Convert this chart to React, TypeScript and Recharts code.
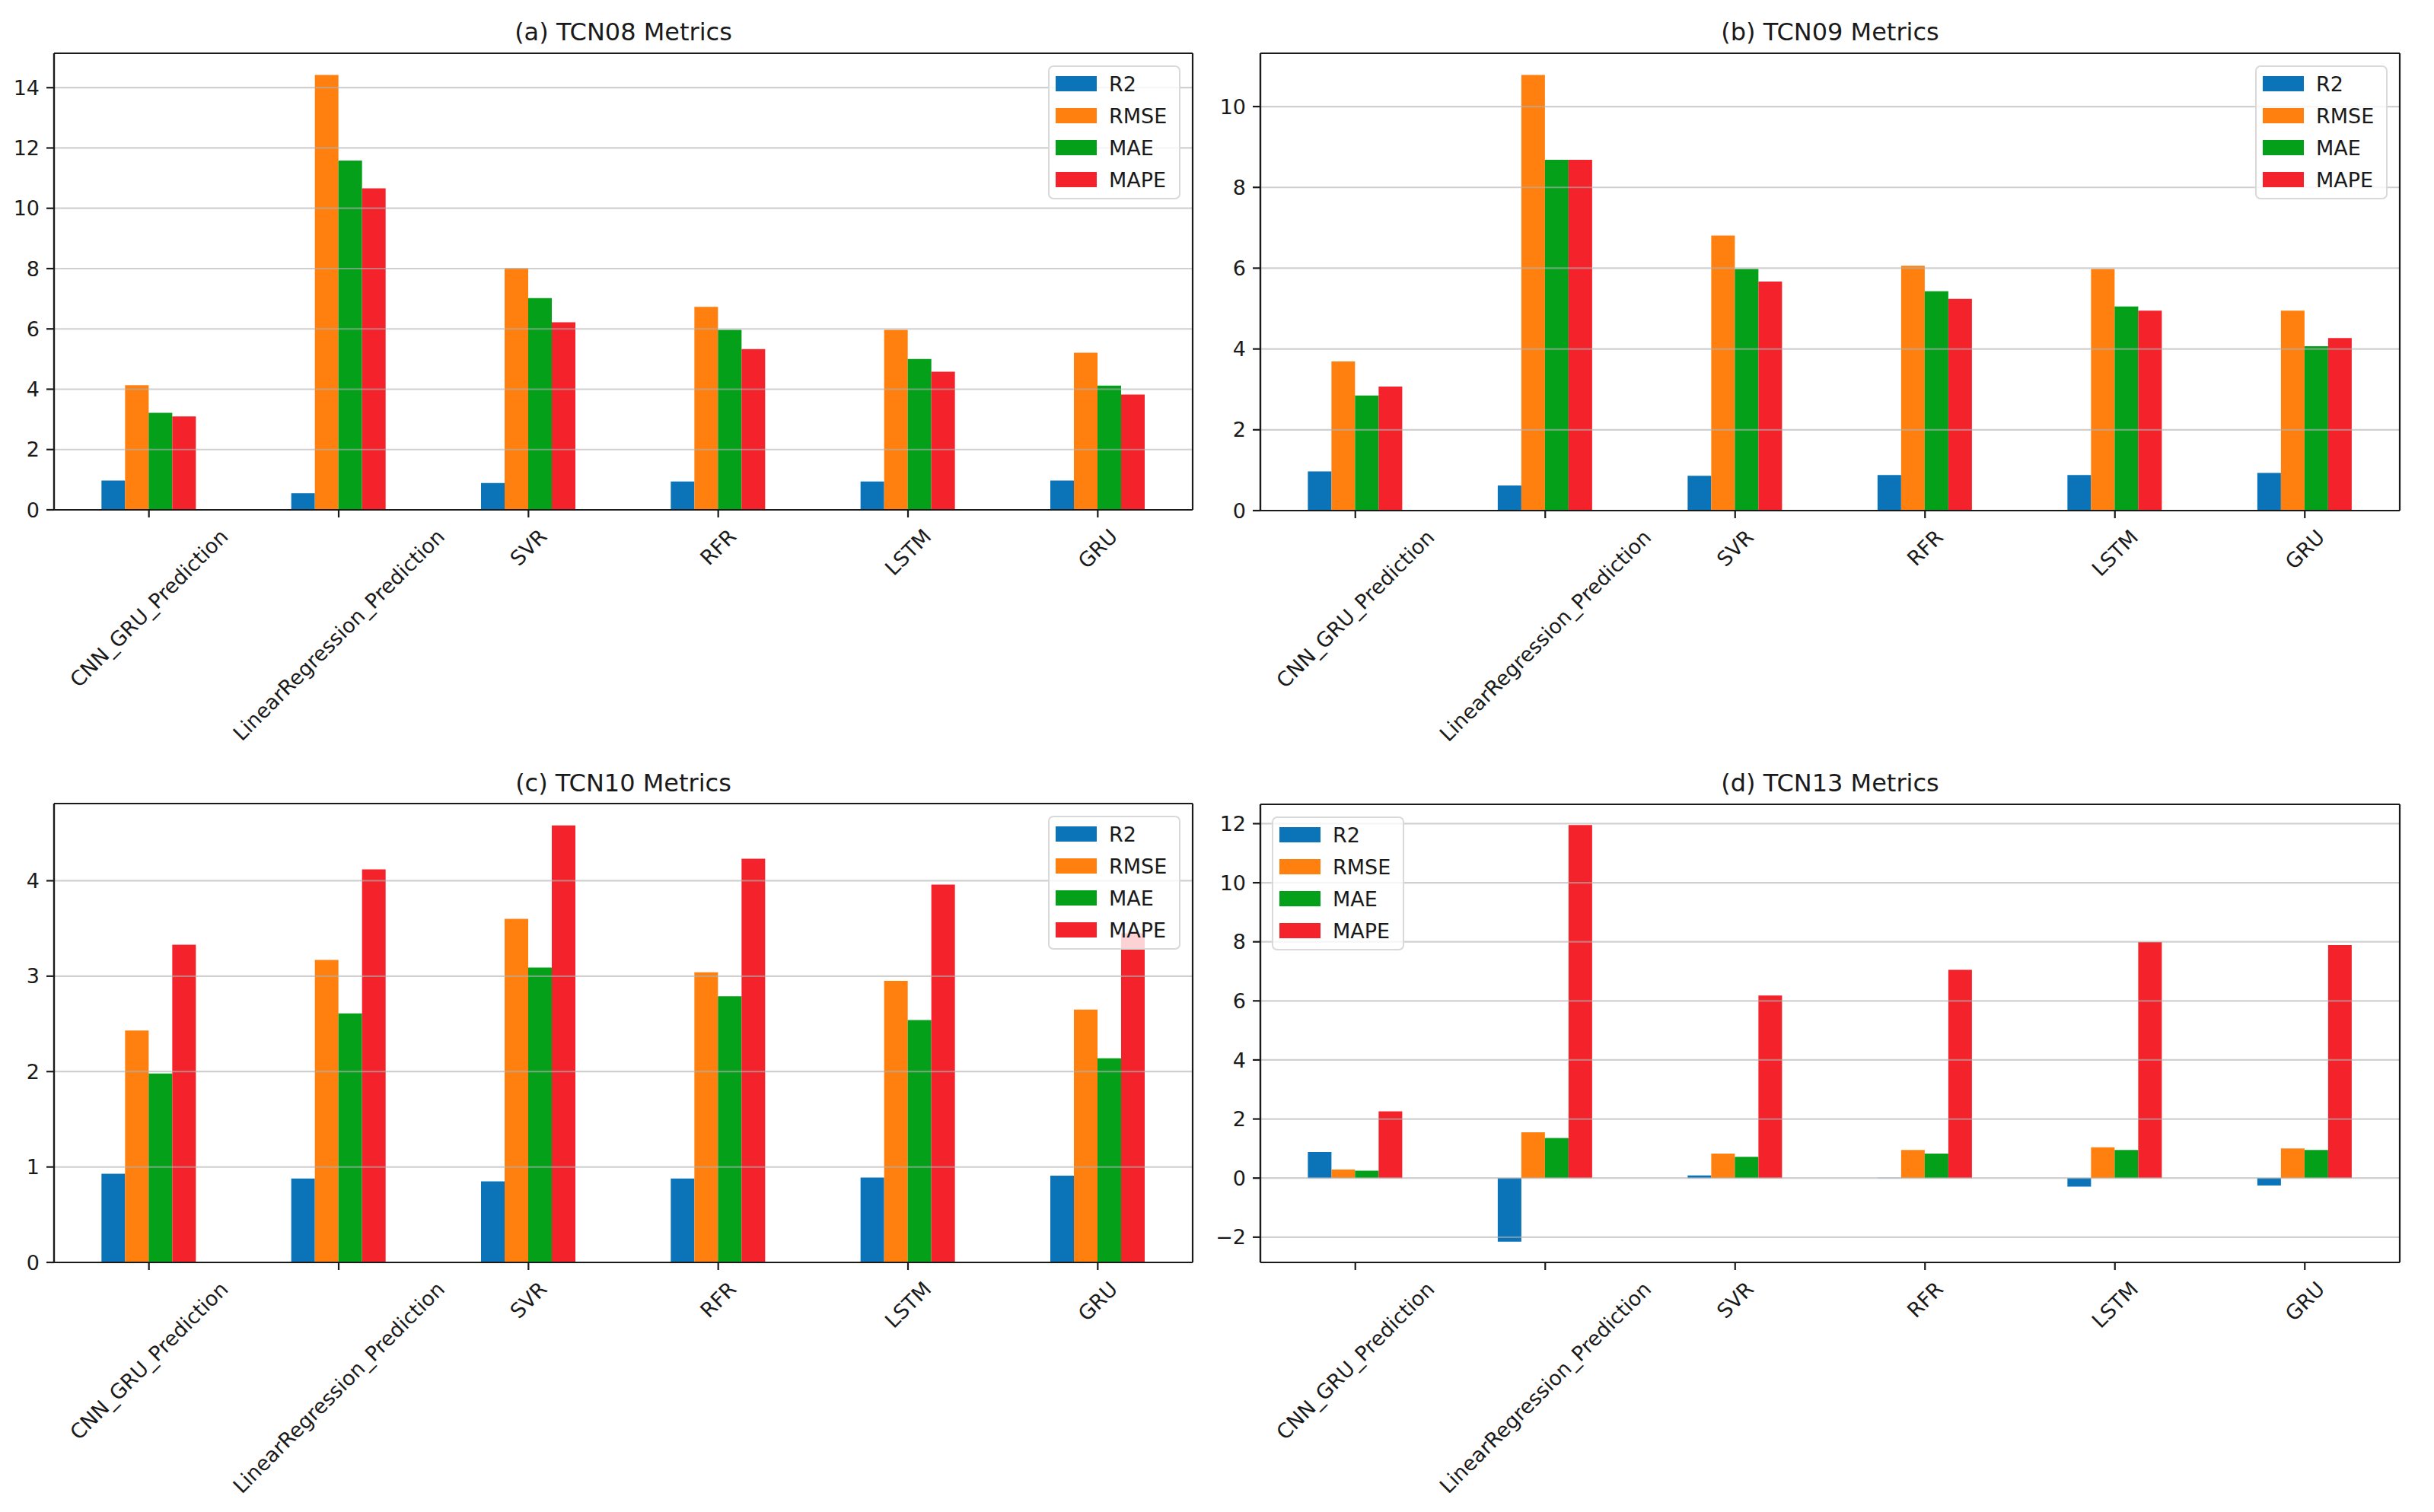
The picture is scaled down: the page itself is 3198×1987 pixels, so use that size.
import { BarChart, Bar, XAxis, YAxis, CartesianGrid, Legend } from 'recharts'

// 2x2 grid of grouped bar charts (matplotlib/pandas look): one panel per TCN dataset.

const models = ['CNN_GRU_Prediction', 'LinearRegression_Prediction', 'SVR', 'RFR', 'LSTM', 'GRU']
const metrics = ['R2', 'RMSE', 'MAE', 'MAPE']
const metricColors = ['#0b74b8', '#ff800e', '#04a01a', '#f4222a']

// (a) TCN08
const tcn08R2 = [0.97, 0.55, 0.89, 0.94, 0.94, 0.97]
const tcn08Rmse = [4.13, 14.42, 8.01, 6.73, 5.97, 5.21]
const tcn08Mae = [3.22, 11.58, 7.02, 5.97, 5.0, 4.12]
const tcn08Mape = [3.1, 10.66, 6.22, 5.33, 4.58, 3.82]

// (b) TCN09
const tcn09R2 = [0.97, 0.62, 0.86, 0.88, 0.88, 0.93]
const tcn09Rmse = [3.69, 10.78, 6.81, 6.06, 5.98, 4.95]
const tcn09Mae = [2.85, 8.68, 5.98, 5.43, 5.05, 4.07]
const tcn09Mape = [3.07, 8.68, 5.67, 5.24, 4.95, 4.27]

// (c) TCN10
const tcn10R2 = [0.93, 0.88, 0.85, 0.88, 0.89, 0.91]
const tcn10Rmse = [2.43, 3.17, 3.6, 3.04, 2.95, 2.65]
const tcn10Mae = [1.98, 2.61, 3.09, 2.79, 2.54, 2.14]
const tcn10Mape = [3.33, 4.12, 4.58, 4.23, 3.96, 3.45]

// (d) TCN13
const tcn13R2 = [0.88, -2.15, 0.09, 0.01, -0.29, -0.25]
const tcn13Rmse = [0.29, 1.55, 0.83, 0.95, 1.04, 1.0]
const tcn13Mae = [0.25, 1.36, 0.72, 0.83, 0.95, 0.95]
const tcn13Mape = [2.26, 11.95, 6.18, 7.05, 7.99, 7.89]

const ticks08 = [0, 2, 4, 6, 8, 10, 12, 14]
const ticks09 = [0, 2, 4, 6, 8, 10]
const ticks10 = [0, 1, 2, 3, 4]
const ticks13 = [-2, 0, 2, 4, 6, 8, 10, 12]

const FONT = "'DejaVu Sans', sans-serif"
const INK = '#1a1a1a'
const TICK_FS = 27
const Y_AXIS_W = 50
const X_AXIS_H = 60
// room around the plot box for ticks, labels and the title
const PAD_L = 100
const PAD_T = 70
const PAD_R = 30
const PAD_B = 320

function rows(r2: number[], rmse: number[], mae: number[], mape: number[]) {
  return models.map((model, i) => ({ model, R2: r2[i], RMSE: rmse[i], MAE: mae[i], MAPE: mape[i] }))
}

// matplotlib autoscale: bars stick to 0, 5% margin on the free ends
function yDomain(data: Record<string, number | string>[]) {
  const vals = data.flatMap(d => metrics.map(m => Number(d[m])))
  const lo = Math.min(0, ...vals)
  const hi = Math.max(0, ...vals)
  const span = hi - lo
  return [lo < 0 ? lo - 0.05 * span : 0, hi + 0.05 * span]
}

let ctx: CanvasRenderingContext2D | null = null
function textWidth(s: string) {
  if (!ctx) ctx = document.createElement('canvas').getContext('2d')
  if (!ctx) return s.length * TICK_FS * 0.6
  ctx.font = `${TICK_FS}px 'DejaVu Sans'`
  return ctx.measureText(s).width
}

// rotated 45°, box centred under the tick (matplotlib ha='center')
function SlantTick(props: any) {
  const { x, y, payload } = props
  const side = (textWidth(payload.value) + TICK_FS * 1.16) / Math.SQRT2
  return (
    <text
      x={0}
      y={0}
      transform={`translate(${x},${y + side / 2}) rotate(-45)`}
      textAnchor="middle"
      dominantBaseline="central"
      fontSize={TICK_FS}
      fontFamily={FONT}
      fill={INK}
    >
      {payload.value}
    </text>
  )
}

function LegendBox({ payload }: any) {
  // keep the series order (recharts sorts the payload by name)
  const items = [...(payload || [])].sort((a: any, b: any) => metrics.indexOf(a.value) - metrics.indexOf(b.value))
  return (
    <div
      style={{
        width: 174,
        height: 176,
        boxSizing: 'border-box',
        border: '2px solid #d9d9d9',
        borderRadius: 7,
        background: 'rgba(255,255,255,0.8)',
        position: 'relative',
        fontFamily: FONT,
        fontSize: TICK_FS,
        color: INK,
      }}
    >
      {items.map((p: any, i: number) => (
        <div key={p.value} style={{ position: 'absolute', left: 0, top: 22 + i * 42 - 16, height: 32, display: 'flex', alignItems: 'center' }}>
          <span style={{ display: 'inline-block', marginLeft: 8, width: 54, height: 20, background: p.color }} />
          <span style={{ marginLeft: 16, lineHeight: 1 }}>{p.value}</span>
        </div>
      ))}
    </div>
  )
}

type Panel = {
  title: string
  data: ReturnType<typeof rows>
  ticks: number[]
  // plot box in page pixels
  left: number
  top: number
  right: number
  bottom: number
  titleY: number
  legendLeft: boolean
}

const panels: Panel[] = [
  { title: '(a) TCN08 Metrics', data: rows(tcn08R2, tcn08Rmse, tcn08Mae, tcn08Mape), ticks: ticks08, left: 71, top: 70, right: 1567, bottom: 670, titleY: 42, legendLeft: false },
  { title: '(b) TCN09 Metrics', data: rows(tcn09R2, tcn09Rmse, tcn09Mae, tcn09Mape), ticks: ticks09, left: 1656, top: 70, right: 3153, bottom: 671, titleY: 42, legendLeft: false },
  { title: '(c) TCN10 Metrics', data: rows(tcn10R2, tcn10Rmse, tcn10Mae, tcn10Mape), ticks: ticks10, left: 71, top: 1056, right: 1567, bottom: 1659, titleY: 1029, legendLeft: false },
  { title: '(d) TCN13 Metrics', data: rows(tcn13R2, tcn13Rmse, tcn13Mae, tcn13Mape), ticks: ticks13, left: 1656, top: 1057, right: 3153, bottom: 1659, titleY: 1029, legendLeft: true },
]

// frame = the four spines, taken from the plot offset
const frameRows = ({ offset }: any) => [offset.top, offset.top + offset.height]
const frameCols = ({ offset }: any) => [offset.left, offset.left + offset.width]

function MetricsPanel({ p }: { p: Panel }) {
  const ox = Math.max(0, p.left - PAD_L)
  const oy = Math.max(0, p.top - PAD_T)
  const plotL = p.left - ox
  const plotT = p.top - oy
  const plotR = p.right - ox
  const plotB = p.bottom - oy
  const w = plotR + PAD_R
  const h = plotB + PAD_B
  const spine = { stroke: INK, strokeWidth: 2.2 }
  const legendX = p.legendLeft ? plotL + 15 : plotR - 16 - 174
  return (
    <div style={{ position: 'absolute', left: ox, top: oy, width: w, height: h }}>
      <div
        style={{
          position: 'absolute',
          left: plotL,
          width: plotR - plotL,
          top: p.titleY - oy - 18,
          height: 36,
          lineHeight: '36px',
          textAlign: 'center',
          fontFamily: FONT,
          fontSize: 32,
          color: INK,
        }}
      >
        {p.title}
      </div>
      <BarChart
        width={w}
        height={h}
        data={p.data}
        barCategoryGap="25%"
        barGap={0}
        style={{ overflow: 'visible' }}
        margin={{ left: plotL - Y_AXIS_W, top: plotT, right: w - plotR, bottom: h - plotB - X_AXIS_H }}
      >
        <XAxis
          dataKey="model"
          interval={0}
          height={X_AXIS_H}
          tickSize={10}
          tickMargin={9}
          tickLine={spine}
          axisLine={spine}
          tick={<SlantTick />}
        />
        <YAxis
          type="number"
          domain={yDomain(p.data)}
          ticks={p.ticks}
          interval={0}
          width={Y_AXIS_W}
          tickSize={10}
          tickMargin={9}
          tickLine={spine}
          axisLine={spine}
          tickFormatter={(v: number) => String(v).replace('-', '\u2212')}
          tick={{ fontSize: TICK_FS, fontFamily: FONT, fill: INK }}
        />
        {metrics.map((m, i) => (
          <Bar key={m} dataKey={m} name={m} fill={metricColors[i]} isAnimationActive={false} />
        ))}
        <CartesianGrid vertical={false} stroke="#b0b0b0" strokeOpacity={0.6} strokeWidth={2.2} zIndex={400} />
        <CartesianGrid
          fill="none"
          stroke={INK}
          strokeWidth={2.2}
          horizontalCoordinatesGenerator={frameRows}
          verticalCoordinatesGenerator={frameCols}
          zIndex={450}
        />
        <Legend
          layout="horizontal"
          verticalAlign="middle"
          align="center"
          wrapperStyle={{ left: legendX, top: plotT + 16, width: 174, height: 176 }}
          content={<LegendBox />}
        />
      </BarChart>
    </div>
  )
}

export default function App() {
  return (
    <div style={{ position: 'relative', width: 3198, height: 1987, background: '#fff' }}>
      <style>{'body{margin:0}'}</style>
      {panels.map(p => (
        <MetricsPanel key={p.title} p={p} />
      ))}
    </div>
  )
}
